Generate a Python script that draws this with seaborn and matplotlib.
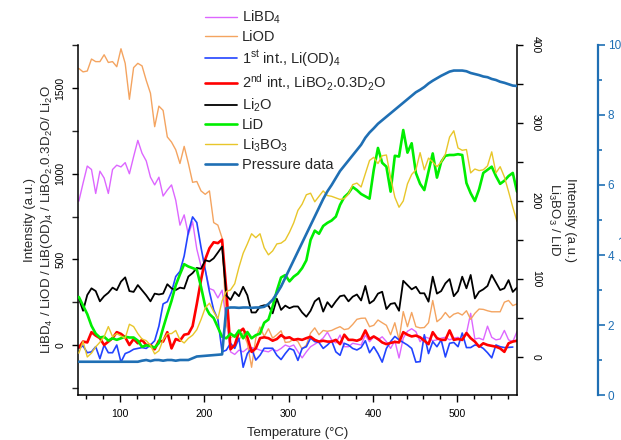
import numpy as np
import matplotlib
matplotlib.use("Agg")
import matplotlib.pyplot as plt
from matplotlib.ticker import MultipleLocator
from matplotlib.lines import Line2D
import seaborn as sns

# ---------------- data ----------------
temperature = np.arange(51, 572, 5)  # 51 ... 571 degC

libd4 = [840, 945, 1045, 1025, 885, 1015, 975, 885, 1025, 1050,
         1040, 1065, 1000, 1100, 1195, 1120, 1075, 980, 935, 980,
         870, 905, 935, 845, 700, 760, 645, 720, 560, 460,
         440, 330, 320, 275, 320, 150, -40, -55, -30, -40,
         -20, -15, -20, -30, -35, -40, -25, -35, -20, 0,
         -10, 0, -39, -75, -40, -10, 5, 20, 41, 75,
         30, 12, 58, -10, -10, 10, 5, 0, 58, 19,
         48, 30, 48, 20, -20, 25, -76, 40, 80, 95,
         78, 19, 48, 40, 25, 30, 40, 45, 30, 40,
         45, 25, 68, 185, 35, 40, 30, 110, 45, 30,
         35, 85, 30, 20, 78]

liod = [1615, 1595, 1600, 1670, 1655, 1655, 1695, 1650, 1655, 1625,
        1730, 1645, 1435, 1620, 1645, 1630, 1545, 1470, 1275, 1395,
        1370, 1215, 1185, 1140, 1060, 1160, 1060, 950, 955, 900,
        880, 900, 715, 700, 625, 120, 40, 60, 30, 70,
        10, -130, 40, 105, 50, 95, 40, 60, 83, 15,
        18, 35, 20, -25, 0, 70, 100, 60, 85, 80,
        85, 97, 107, 90, 95, 120, 150, 156, 157, 107,
        115, 146, 130, 115, 60, 130, 30, 195, 107, 190,
        107, 100, 102, 130, 260, 136, 156, 190, 160, 180,
        188, 175, 200, 150, 185, 210, 208, 200, 194, 194,
        194, 250, 260, 230, 240]

int1 = [-19, -5, -45, -40, -10, -80, 0, -45, -45, 0,
        -100, -50, -40, -25, -20, -15, -20, 0, 25, 110,
        240, 253, 310, 400, 430, 520, 660, 748, 715, 570,
        440, 310, 205, 150, -40, -30, 10, -20, 40, -130,
        -50, -20, -88, -60, -19, -19, -19, -60, -85, -50,
        -20, -30, -90, -20, -10, 40, 20, 15, -20, 0,
        25, -40, -60, 10, 0, -20, -29, -15, 25, -45,
        -10, -50, -100, -20, 20, 50, 30, 15, 0, -20,
        -100, -97, 60, -50, 20, -10, 30, -70, 10, 15,
        -10, 70, -15, -15, 0, -5, -20, -45, -75, 0,
        -10, -15, -14, -12, np.nan]

int2 = [-15, 20, 15, 75, 55, 40, 0, 20, 40, 75,
        65, 45, 0, 35, 10, 30, 0, 0, -25, 25,
        20, 75, -20, 35, 25, 60, 65, 110, 240, 380,
        500, 565, 600, 595, 615, 320, -25, 0, 75, 95,
        45, -40, -20, 40, 45, 40, 25, 35, 58, 40,
        45, 30, 35, 30, 40, 48, 30, 20, 25, 20,
        20, 30, 5, 60, 30, 30, 25, 35, 85, 35,
        50, 35, 15, 5, 12, 18, 15, 75, 60, 50,
        55, 45, 25, 5, 75, 40, 30, 30, 85, 30,
        35, 30, 70, 40, 20, -10, 10, 0, -5, -10,
        -20, -40, 10, 20, 25]

li2o = [272, 200, 292, 331, 315, 255, 285, 305, 335, 320,
        370, 395, 315, 310, 350, 320, 290, 255, 300, 295,
        300, 355, 331, 321, 335, 330, 400, 420, 450, 445,
        495, 488, 506, 540, 575, 290, 263, 310, 285, 340,
        290, 190, 190, 225, 232, 230, 185, 270, 205, 230,
        215, 225, 225, 190, 165, 200, 255, 275, 195, 250,
        220, 255, 285, 290, 255, 282, 295, 260, 345, 243,
        260, 300, 311, 210, 240, 245, 200, 375, 350, 325,
        340, 302, 302, 253, 399, 300, 315, 360, 385, 285,
        315, 399, 331, 409, 272, 311, 325, 345, 409, 365,
        321, 331, 379, 310, 335]

lid = [77, 66, 55, 40, 30, 25, 26, 21, 24, 22,
       24, 26, 25, 25, 21, 13, 15, 14, 12, 18,
       37, 55, 72, 92, 106, 119, 116, 114, 112, 90,
       65, 55, 50, 38, 26, 24, 30, 26, 34, 24,
       32, 24, 28, 30, 44, 48, 65, 85, 102, 105,
       97, 103, 107, 114, 124, 150, 162, 158, 168, 172,
       175, 180, 195, 205, 210, 218, 214, 209, 206, 203,
       240, 268, 249, 244, 212, 258, 257, 291, 262, 274,
       236, 222, 214, 238, 261, 230, 250, 258, 259, 259,
       260, 259, 223, 210, 200, 215, 236, 240, 244, 232,
       222, 226, 232, 236, 212]

li3bo3 = [5, 20, 0, 5, 13, 19, 26, 39, 26, 30,
          27, 24, 42, 39, 30, 23, 21, 15, 4, 8,
          22, 30, 30, 34, 22, 18, 24, 28, 35, 48,
          63, 69, 58, 49, 72, 84, 86, 94, 115, 133,
          145, 158, 153, 158, 140, 131, 136, 145, 146, 150,
          160, 172, 188, 196, 208, 210, 199, 206, 213, 207,
          206, 204, 202, 203, 209, 221, 223, 218, 235, 252,
          256, 248, 258, 259, 230, 205, 192, 200, 222, 234,
          240, 262, 240, 255, 250, 244, 250, 260, 282, 290,
          268, 265, 266, 236, 241, 239, 240, 245, 263, 236,
          244, 231, 212, 192, 174]

pressure = [0.95, 0.95, 0.95, 0.95, 0.95, 0.95, 0.95, 0.95, 0.95, 0.95,
            0.95, 0.95, 0.95, 0.95, 0.95, 0.98, 1.0, 0.97, 1.0, 1.0,
            0.98, 1.0, 1.0, 0.98, 1.0, 1.0, 1.0, 1.05, 1.1, 1.11,
            1.12, 1.13, 1.14, 1.15, 1.16, 2.48, 2.5, 2.5, 2.49, 2.5,
            2.5, 2.49, 2.5, 2.5, 2.52, 2.6, 2.72, 2.9, 3.1, 3.35,
            3.6, 3.85, 4.1, 4.35, 4.6, 4.85, 5.1, 5.35, 5.6, 5.82,
            6.0, 6.2, 6.4, 6.55, 6.7, 6.85, 7.0, 7.15, 7.35, 7.5,
            7.62, 7.75, 7.85, 7.95, 8.05, 8.15, 8.25, 8.35, 8.45, 8.55,
            8.65, 8.72, 8.8, 8.9, 8.98, 9.05, 9.12, 9.18, 9.24, 9.27,
            9.27, 9.27, 9.25, 9.2, 9.17, 9.14, 9.1, 9.08, 9.03, 9.0,
            8.95, 8.92, 8.88, 8.84, 8.83]

labels = ["LiBD$_4$", "LiOD", "1$^{\\mathrm{st}}$ int., Li(OD)$_4$",
          "2$^{\\mathrm{nd}}$ int., LiBO$_2$.0.3D$_2$O", "Li$_2$O", "LiD",
          "Li$_3$BO$_3$", "Pressure data"]

# ---------------- style ----------------
sns.set_theme(style="ticks")
plt.rcParams["font.family"] = ["Liberation Sans", "DejaVu Sans"]
plt.rcParams["mathtext.fontset"] = "custom"
plt.rcParams["mathtext.rm"] = "Liberation Sans"
plt.rcParams["mathtext.it"] = "Liberation Sans:italic"
plt.rcParams["mathtext.bf"] = "Liberation Sans:bold"

c_libd4 = "#DD66FF"
c_liod = "#F4A460"
c_int1 = "#2244FF"
c_int2 = "#FF0000"
c_li2o = "#000000"
c_lid = "#00EE00"
c_li3bo3 = "#E8C62A"
c_p = "#1F6FB4"

fig = plt.figure(figsize=(6.21, 4.40), dpi=100)
ax = fig.add_axes([78 / 621, 45 / 440, 439 / 621, 350 / 440])
ax2 = ax.twinx()
ax3 = ax.twinx()

series_left = [(libd4, c_libd4, 1.0), (liod, c_liod, 1.0), (int1, c_int1, 1.2),
               (int2, c_int2, 1.9), (li2o, c_li2o, 1.3)]
for vals, col, lw in series_left:
    sns.lineplot(x=temperature, y=np.array(vals, dtype=float), ax=ax, color=col,
                 linewidth=lw, estimator=None, sort=False)
sns.lineplot(x=temperature, y=np.array(lid, dtype=float), ax=ax2, color=c_lid,
             linewidth=1.9, estimator=None, sort=False)
sns.lineplot(x=temperature, y=np.array(li3bo3, dtype=float), ax=ax2, color=c_li3bo3,
             linewidth=1.0, estimator=None, sort=False)
sns.lineplot(x=temperature, y=np.array(pressure, dtype=float), ax=ax3, color=c_p,
             linewidth=1.9, estimator=None, sort=False)

# limits
ax.set_xlim(50, 571)
ax.set_ylim(-292, 1752)
ax2.set_ylim(-48.7, 400)
ax3.set_ylim(0, 10)

# spines
ax.spines["top"].set_visible(False)
ax.spines["right"].set_visible(False)
for a in (ax2, ax3):
    a.spines["top"].set_visible(False)
    a.spines["left"].set_visible(False)
    a.spines["bottom"].set_visible(False)
for a in (ax, ax2):
    for s in a.spines.values():
        s.set_linewidth(1.1)
        s.set_color("black")
ax3.spines["right"].set_position(("axes", 1.1845))
ax3.spines["right"].set_color(c_p)
ax3.spines["right"].set_linewidth(1.6)

# ticks
ax.xaxis.set_major_locator(MultipleLocator(100))
ax.xaxis.set_minor_locator(MultipleLocator(20))
ax.yaxis.set_major_locator(MultipleLocator(500))
ax.yaxis.set_minor_locator(MultipleLocator(250))
ax2.yaxis.set_major_locator(MultipleLocator(100))
ax2.yaxis.set_minor_locator(MultipleLocator(50))
ax3.yaxis.set_major_locator(MultipleLocator(2))
ax3.yaxis.set_minor_locator(MultipleLocator(1))

ax.tick_params(axis="x", which="major", direction="out", length=5, width=1, labelsize=7.5, pad=5, colors="black")
ax.tick_params(axis="x", which="minor", direction="out", length=3, width=1, colors="black")
ax.tick_params(axis="y", which="major", direction="out", length=4, width=1, labelsize=7.5, pad=5, colors="black",
               left=True, right=False)
ax.tick_params(axis="y", which="minor", direction="out", length=4, width=1, left=True, right=False)
ax2.tick_params(axis="y", which="major", direction="out", length=4, width=1, labelsize=7.5, pad=6, colors="black")
ax2.tick_params(axis="y", which="minor", direction="out", length=4, width=1, colors="black")
ax3.tick_params(axis="y", which="major", direction="out", length=5, width=1.2, labelsize=8.5, pad=2, colors=c_p)
ax3.tick_params(axis="y", which="minor", direction="out", length=3, width=1.2, colors=c_p)

for t in ax.get_yticklabels():
    t.set_rotation(90)
    t.set_va("center")
for t in ax2.get_yticklabels():
    t.set_rotation(270)
    t.set_va("center")

# labels
ax.set_xlabel("Temperature (°C)", fontsize=9.5, labelpad=6)
ax.set_ylabel("Intensity (a.u.)\nLiBD$_4$ / LiOD / LiB(OD)$_4$ / LiBO$_2$.0.3D$_2$O/ Li$_2$O",
              fontsize=9.5, linespacing=1.3)
ax.yaxis.set_label_coords(-0.052, 0.5)
ax2.set_ylabel("Intensity (a.u.)\nLi$_3$BO$_3$ / LiD", fontsize=9.5, rotation=270,
               va="bottom", linespacing=1.3)
ax2.yaxis.set_label_coords(1.066, 0.5)
ax3.set_ylabel("Pressure (bar)", fontsize=9.5, rotation=270, va="bottom", color=c_p)
ax3.yaxis.set_label_coords(1.229, 0.5)

# legend
colors = [c_libd4, c_liod, c_int1, c_int2, c_li2o, c_lid, c_li3bo3, c_p]
widths = [1.0, 1.0, 1.2, 1.9, 1.3, 1.9, 1.0, 1.9]
handles = [Line2D([0], [0], color=c, lw=w) for c, w in zip(colors, widths)]
fig.legend(handles, labels, loc="upper left", bbox_to_anchor=(205 / 621, 1 - 9 / 440),
           frameon=False, fontsize=10.5, handlelength=2.2, handletextpad=0.35,
           labelspacing=0.27, borderpad=0, borderaxespad=0)

fig.savefig("out.png", dpi=100)
